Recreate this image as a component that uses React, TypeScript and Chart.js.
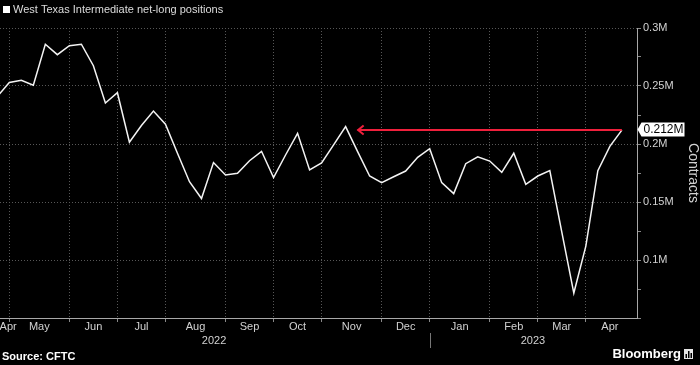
import React, { useEffect, useRef } from 'react';
import { Chart, registerables } from 'chart.js';

Chart.register(...registerables);

// ---- data ----
const weeks = [
  '2022-04-26', '2022-05-03', '2022-05-10', '2022-05-17', '2022-05-24', '2022-05-31',
  '2022-06-07', '2022-06-14', '2022-06-21', '2022-06-28', '2022-07-05', '2022-07-12',
  '2022-07-19', '2022-07-26', '2022-08-02', '2022-08-09', '2022-08-16', '2022-08-23',
  '2022-08-30', '2022-09-06', '2022-09-13', '2022-09-20', '2022-09-27', '2022-10-04',
  '2022-10-11', '2022-10-18', '2022-10-25', '2022-11-01', '2022-11-08', '2022-11-15',
  '2022-11-22', '2022-11-29', '2022-12-06', '2022-12-13', '2022-12-20', '2022-12-27',
  '2023-01-03', '2023-01-10', '2023-01-17', '2023-01-24', '2023-01-31', '2023-02-07',
  '2023-02-14', '2023-02-21', '2023-02-28', '2023-03-07', '2023-03-14', '2023-03-21',
  '2023-03-28', '2023-04-04', '2023-04-11', '2023-04-18', '2023-04-25',
];

const netLong = [
  241000, 253000, 255000, 250600, 286000, 277000, 284700, 286000, 267500, 235300,
  244200, 201500, 216000, 228400, 217000, 192000, 167500, 153000, 184000, 173300,
  174700, 185600, 193700, 171000, 190500, 209200, 177700, 183700, 199300, 215000,
  193400, 172400, 166700, 171800, 176700, 188500, 196000, 166700, 157200, 183000,
  189000, 185300, 175600, 192000, 165200, 172400, 177000, 124000, 71500, 112000,
  177000, 198000, 212000,
];

// first weekly observation of each month (index into weeks)
const monthStarts = [1, 6, 10, 14, 19, 23, 27, 32, 36, 41, 45, 49];
const monthLabels = ['Apr', 'May', 'Jun', 'Jul', 'Aug', 'Sep', 'Oct', 'Nov', 'Dec', 'Jan', 'Feb', 'Mar', 'Apr'];
const monthLabelPos = [0.9, 3.5, 8, 12, 16.5, 21, 25, 29.5, 34, 38.5, 43, 47, 51];
const yearLabels = ['2022', '2023'];
const yearLabelPos = [18.05, 44.6];
const yearBreak = 36;

const yTicks = [50000, 75000, 100000, 125000, 150000, 175000, 200000, 225000, 250000, 275000, 300000];
const yMin = 50000;
const yMax = 300000;
const xMin = 0.225;
const xMax = 53.26;

const latestValue = 212000;
const latestLabel = '0.212M';
const arrowFromIdx = 52;
const arrowToIdx = 30;

const titleText = 'West Texas Intermediate net-long positions';
const sourceText = 'Source: CFTC';
const brandText = 'Bloomberg';
const yTitle = 'Contracts';

const FONT = "'Liberation Sans', Arial, sans-serif";
const GRID = '#575757';
const AXIS = '#a8a8a8';
const TXT = '#d2d2d2';
const RED = '#f0203c';

const decorations = {
  id: 'decorations',
  beforeDraw(chart: any) {
    const { ctx, width, height } = chart;
    ctx.save();
    ctx.fillStyle = '#000';
    ctx.fillRect(0, 0, width, height);
    ctx.restore();
  },
  afterDraw(chart: any) {
    const { ctx } = chart;
    const xs = chart.scales.x;
    const ys = chart.scales.y;
    ctx.save();

    // title legend
    ctx.fillStyle = '#ffffff';
    ctx.fillRect(3, 6, 7, 7);
    ctx.fillStyle = '#dcdcdc';
    ctx.font = `11px ${FONT}`;
    ctx.textBaseline = 'middle';
    ctx.textAlign = 'left';
    ctx.fillText(titleText, 13, 10);

    // year separator
    const bx = Math.round(xs.getPixelForValue(yearBreak)) + 0.5;
    ctx.strokeStyle = '#777';
    ctx.lineWidth = 1;
    ctx.beginPath();
    ctx.moveTo(bx, 333);
    ctx.lineTo(bx, 348);
    ctx.stroke();

    // red arrow
    const ay = ys.getPixelForValue(latestValue);
    const ax1 = xs.getPixelForValue(arrowFromIdx);
    const ax2 = xs.getPixelForValue(arrowToIdx);
    ctx.strokeStyle = RED;
    ctx.lineWidth = 2;
    ctx.beginPath();
    ctx.moveTo(ax1, ay);
    ctx.lineTo(ax2, ay);
    ctx.stroke();
    ctx.beginPath();
    ctx.moveTo(ax2 + 6, ay - 4.5);
    ctx.lineTo(ax2 + 0.5, ay);
    ctx.lineTo(ax2 + 6, ay + 4.5);
    ctx.stroke();

    // value label
    const lx = chart.chartArea.right + 0.5;
    const ly = Math.round(ay) - 0.5;
    ctx.fillStyle = '#ffffff';
    ctx.beginPath();
    ctx.moveTo(lx, ly);
    ctx.lineTo(lx + 4, ly - 7);
    ctx.lineTo(lx + 47, ly - 7);
    ctx.lineTo(lx + 47, ly + 7);
    ctx.lineTo(lx + 4, ly + 7);
    ctx.closePath();
    ctx.fill();
    ctx.fillStyle = '#000';
    ctx.font = `12px ${FONT}`;
    ctx.textBaseline = 'middle';
    ctx.fillText(latestLabel, lx + 6, ly + 0.5);

    // footer
    ctx.fillStyle = '#ffffff';
    ctx.font = `bold 11px ${FONT}`;
    ctx.fillText(sourceText, 2, 357);
    ctx.font = `bold 13px ${FONT}`;
    ctx.textAlign = 'right';
    ctx.fillText(brandText, 681, 354);
    // small logo mark
    ctx.fillStyle = '#e6e6e6';
    ctx.fillRect(684, 349, 9, 10);
    ctx.fillStyle = '#000';
    ctx.fillRect(685.5, 354, 1.5, 4);
    ctx.fillRect(688, 351, 1.5, 7);
    ctx.fillRect(690.5, 353, 1.5, 5);
    ctx.restore();
  },
};

export default function App() {
  const ref = useRef<HTMLCanvasElement | null>(null);

  useEffect(() => {
    const canvas = ref.current;
    if (!canvas) return;
    const points = netLong.map((v, i) => ({ x: i, y: v }));

    const chart = new Chart(canvas, {
      type: 'line',
      data: {
        datasets: [
          {
            label: titleText,
            data: points,
            borderColor: '#f4f4f4',
            borderWidth: 1.5,
            pointRadius: 0,
            tension: 0,
            fill: false,
          },
        ],
      },
      options: {
        animation: false,
        responsive: false,
        devicePixelRatio: 1,
        layout: { padding: { top: 28, bottom: 15, left: 0, right: 0 } },
        plugins: {
          legend: { display: false },
          tooltip: { enabled: false },
        },
        scales: {
          x: {
            type: 'linear',
            position: 'bottom',
            min: xMin,
            max: xMax,
            afterBuildTicks: (scale: any) => {
              const t: any[] = [];
              monthStarts.forEach((v) => t.push({ value: v, kind: 'grid', lbl: '' }));
              monthLabelPos.forEach((v, i) => t.push({ value: v, kind: 'label', lbl: monthLabels[i] }));
              t.sort((a, b) => a.value - b.value);
              scale.ticks = t;
            },
            afterFit: (scale: any) => {
              scale.height = 16;
              scale.paddingLeft = 0;
              scale.paddingRight = 0;
            },
            ticks: {
              autoSkip: false,
              maxRotation: 0,
              minRotation: 0,
              padding: -2,
              color: TXT,
              font: { family: FONT, size: 11 },
              callback: (_v: any, i: number, ticks: any[]) => ticks[i].lbl || '',
            },
            grid: {
              color: (c: any) => (c.tick && c.tick.kind === 'grid' ? GRID : 'rgba(0,0,0,0)'),
              tickColor: (c: any) => (c.tick && c.tick.kind === 'grid' ? '#888' : 'rgba(0,0,0,0)'),
              tickLength: 4,
              lineWidth: 1,
            },
            border: { display: true, color: AXIS, width: 1, dash: [1, 2] },
          },
          xYear: {
            type: 'linear',
            position: 'bottom',
            min: xMin,
            max: xMax,
            afterBuildTicks: (scale: any) => {
              scale.ticks = yearLabelPos.map((v, i) => ({ value: v, lbl: yearLabels[i] }));
            },
            afterFit: (scale: any) => {
              scale.height = 16;
              scale.paddingLeft = 0;
              scale.paddingRight = 0;
            },
            ticks: {
              autoSkip: false,
              maxRotation: 0,
              minRotation: 0,
              padding: 0,
              color: TXT,
              font: { family: FONT, size: 11 },
              callback: (_v: any, i: number, ticks: any[]) => ticks[i].lbl || '',
            },
            grid: { display: false, drawTicks: false, drawOnChartArea: false },
            border: { display: false },
          },
          y: {
            type: 'linear',
            position: 'right',
            min: yMin,
            max: yMax,
            afterBuildTicks: (scale: any) => {
              scale.ticks = yTicks.map((v) => ({ value: v }));
            },
            afterFit: (scale: any) => {
              scale.width = 63;
              scale.paddingTop = 0;
              scale.paddingBottom = 0;
            },
            ticks: {
              autoSkip: false,
              padding: 2,
              color: TXT,
              font: { family: FONT, size: 11 },
              callback: (v: any) => (v % 50000 === 0 && v >= 100000 ? `${v / 1e6}M` : ''),
            },
            grid: {
              color: (c: any) =>
                c.tick && c.tick.value % 50000 === 0 && c.tick.value >= 100000 ? GRID : 'rgba(0,0,0,0)',
              tickColor: '#888',
              tickLength: 4,
              lineWidth: 1,
            },
            border: { display: true, color: AXIS, width: 1, dash: [1, 2] },
            title: {
              display: true,
              text: yTitle,
              color: TXT,
              font: { family: FONT, size: 14, lineHeight: 1 },
              padding: { top: 0, bottom: 0 },
            },
          },
        },
      },
      plugins: [decorations],
    });

    return () => chart.destroy();
  }, []);

  return (
    <div style={{ position: 'fixed', left: 0, top: 0, width: 700, height: 365, background: '#000' }}>
      <canvas ref={ref} width={700} height={365} style={{ display: 'block', width: 700, height: 365 }} />
    </div>
  );
}
